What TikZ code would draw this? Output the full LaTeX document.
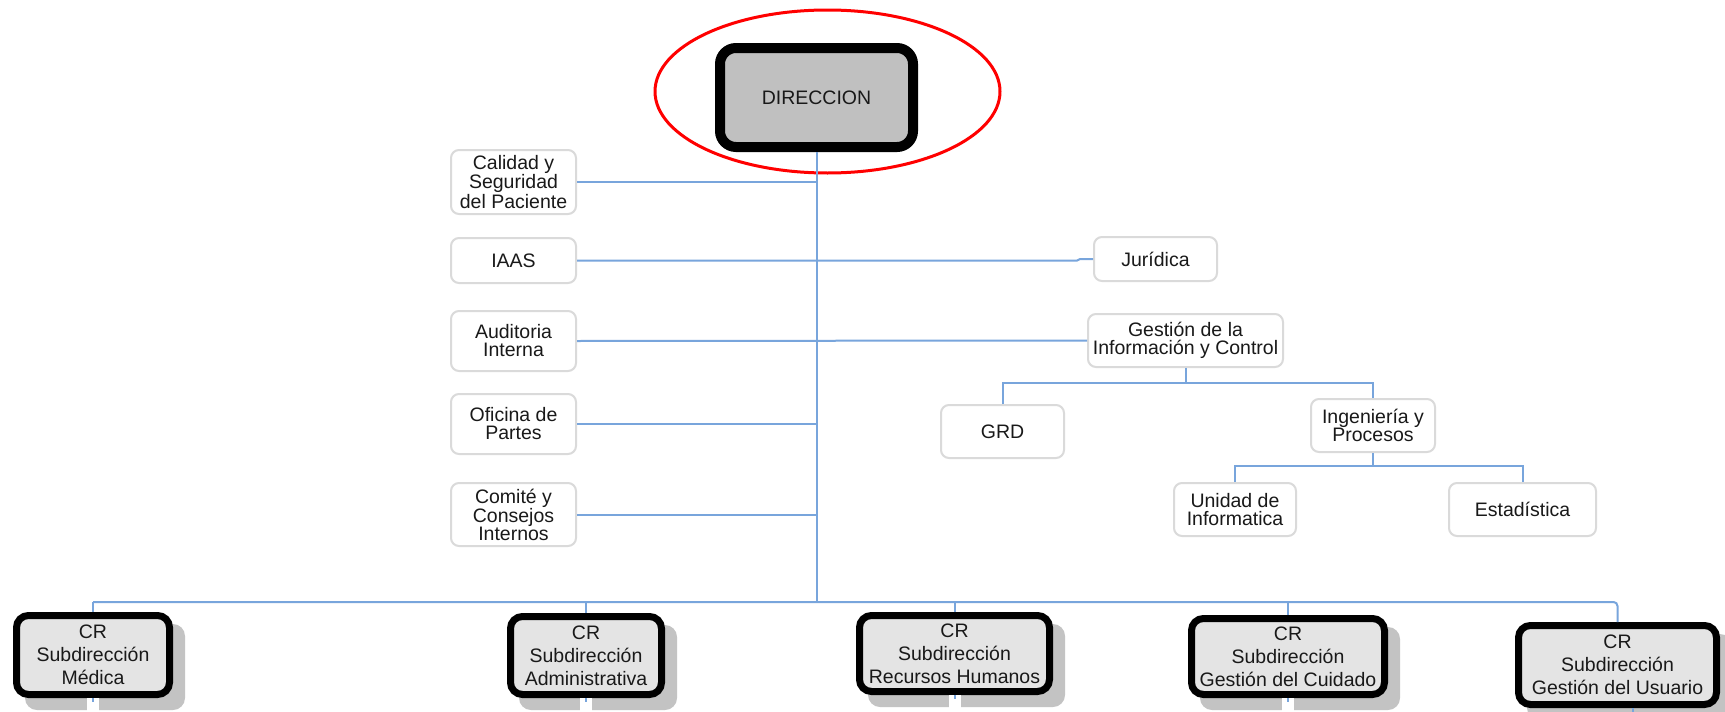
\documentclass[tikz,border=0pt]{standalone}
\usepackage{fontspec}
\setmainfont{Liberation Sans}
\usetikzlibrary{shapes.geometric}
\pgfdeclarelayer{background}
\pgfsetlayers{background,main}
\definecolor{conncol}{RGB}{120,165,220}
\definecolor{txt}{RGB}{25,25,25}
\definecolor{dirfill}{RGB}{192,192,192}
\definecolor{subfill}{RGB}{228,228,228}
\definecolor{shadowcol}{RGB}{195,195,195}
\definecolor{smallborder}{RGB}{218,218,218}
\tikzset{
  conn/.style={draw=conncol, line width=2pt},
  smallbox/.style={draw=smallborder, line width=2pt, fill=white, rounded corners=8pt,
    inner sep=0pt, align=center, text=txt, font=\fontsize{19.5}{18}\selectfont},
  subbox/.style={draw=black, line width=7pt, fill=subfill, rounded corners=12pt,
    inner sep=0pt, align=center, text=txt, font=\fontsize{19.5}{23}\selectfont},
  dirbox/.style={draw=black, line width=10pt, fill=dirfill, rounded corners=16pt,
    inner sep=0pt, align=center, text=txt, font=\fontsize{19.5}{23}\selectfont},
  hilite/.style={draw=red, line width=3pt, ellipse, inner sep=0pt}
}
\newcommand\subshadow[1]{%
  \begin{pgfonlayer}{background}
  \fill[shadowcol, rounded corners=12pt] ([shift={(12,12)}]#1.north west) rectangle ([shift={(12,12)}]#1.south east);
  \end{pgfonlayer}%
  \draw[white, line width=12pt] (#1.south) -- ++(0,16);
  \draw[conn] (#1.south) -- ++(0,4);
}
\begin{document}
\begin{tikzpicture}[x=1pt,y=-1pt]
\useasboundingbox (0,0) rectangle (1725,712);
\begin{pgfonlayer}{background}
\fill[white] (0,0) rectangle (1725,712);
\end{pgfonlayer}

% top
\node[dirbox, minimum width=193, minimum height=99] (dir) at (816.5,97.5) {DIRECCION};
\node[hilite, minimum width=345, minimum height=163] (hl) at (827.5,91.5) {};

% left staff boxes
\node[smallbox, minimum width=125, minimum height=64] (cal) at (513.5,182) {Calidad y\\Seguridad\\del Paciente};
\node[smallbox, minimum width=125, minimum height=45] (iaas) at (513.5,260.5) {IAAS};
\node[smallbox, minimum width=125, minimum height=60] (aud) at (513.5,341) {Auditoria\\Interna};
\node[smallbox, minimum width=125, minimum height=60] (ofi) at (513.5,424) {Oficina de\\Partes};
\node[smallbox, minimum width=125, minimum height=63] (com) at (513.5,514.5) {Comité y\\Consejos\\Internos};

% right staff boxes
\node[smallbox, minimum width=123, minimum height=44] (jur) at (1155.5,259) {Jurídica};
\node[smallbox, minimum width=195, minimum height=53] (gest) at (1185.5,340.5) {Gestión de la\\Información y Control};
\node[smallbox, minimum width=123, minimum height=53] (grd) at (1002.5,431.5) {GRD};
\node[smallbox, minimum width=124, minimum height=53] (ing) at (1373,425.5) {Ingeniería y\\Procesos};
\node[smallbox, minimum width=122, minimum height=53] (uni) at (1235,509.5) {Unidad de\\Informatica};
\node[smallbox, minimum width=147, minimum height=53] (est) at (1522.5,509.5) {Estadística};

% bottom sub-directions
\node[subbox, minimum width=153, minimum height=79] (med) at (93,655) {CR\\Subdirección\\Médica};
\node[subbox, minimum width=151, minimum height=78] (adm) at (586,655.5) {CR\\Subdirección\\Administrativa};
\node[subbox, minimum width=190, minimum height=76] (rh) at (954.5,653.5) {CR\\Subdirección\\Recursos Humanos};
\node[subbox, minimum width=193, minimum height=76] (cui) at (1288,656.5) {CR\\Subdirección\\Gestión del Cuidado};
\node[subbox, minimum width=198, minimum height=79] (usu) at (1617.5,665) {CR\\Subdirección\\Gestión del Usuario};

\subshadow{med}
\subshadow{adm}
\subshadow{rh}
\subshadow{cui}
\begin{pgfonlayer}{background}
\fill[shadowcol, rounded corners=12pt] ([shift={(12,12)}]usu.north west) rectangle ([shift={(12,12)}]usu.south east);
\end{pgfonlayer}
\draw[conn] ([xshift=15.5pt]usu.south) -- ++(0,6);

% junction coordinates
\coordinate (hb) at (816.5,602);
\coordinate (js1) at (1077,260.5);
\coordinate (js2) at (1080,259);
\coordinate (gj) at (1185.5,383);
\coordinate (ij) at (1373,466);

% trunk
\draw[conn] (dir.south) -- (hb);

% left staff connectors
\draw[conn] (cal.east) -- (cal.east -| dir.south);
\draw[conn] (iaas.east) -- (js1) -- (js2) -- (jur.west);
\draw[conn] (aud.east) -- (gest.west);
\draw[conn] (ofi.east) -- (ofi.east -| dir.south);
\draw[conn] (com.east) -- (com.east -| dir.south);

% information tree
\draw[conn] (gest.south) -- (gj);
\draw[conn] (grd.north) |- (gj) -| (ing.north);
\draw[conn] (ing.south) -- (ij);
\draw[conn] (uni.north) |- (ij) -| (est.north);

% bottom bar
\draw[conn] (med.north) -- (med.north |- hb);
\draw[conn, rounded corners=4pt] (med.north |- hb) -| (usu.north);
\draw[conn] (adm.north) -- (adm.north |- hb);
\draw[conn] (rh.north) -- (rh.north |- hb);
\draw[conn] (cui.north) -- (cui.north |- hb);
\end{tikzpicture}
\end{document}
